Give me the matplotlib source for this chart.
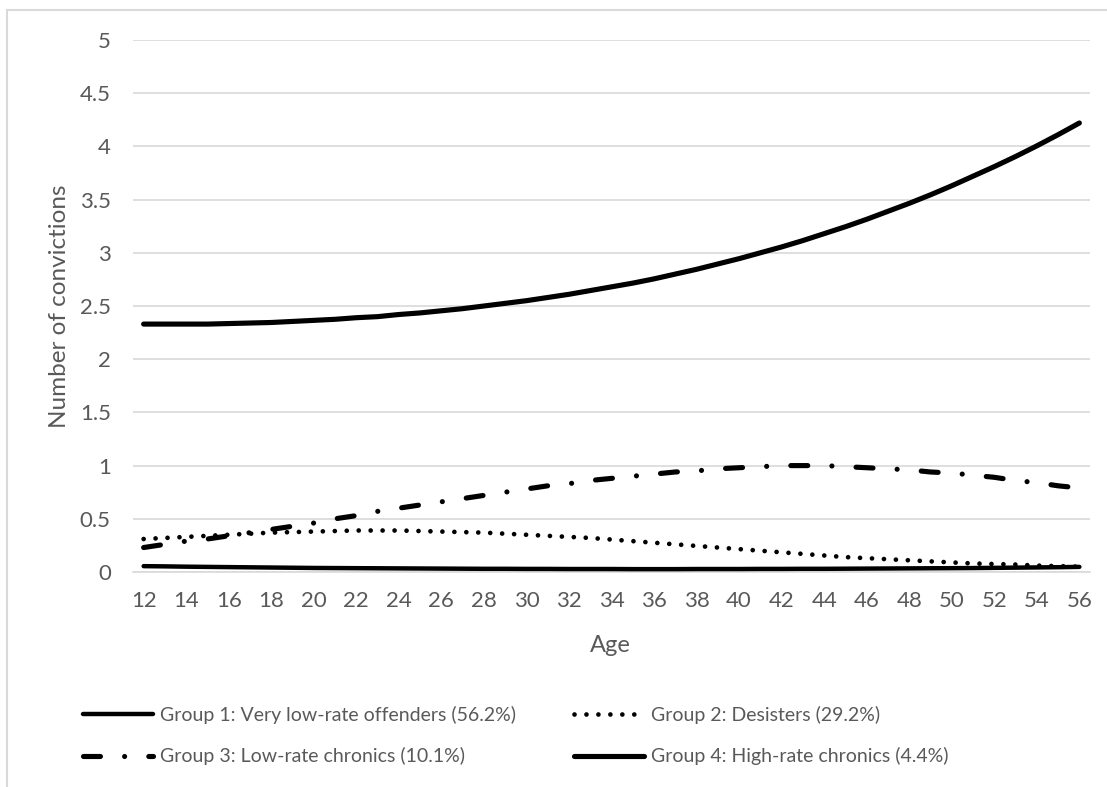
import matplotlib
matplotlib.use("Agg")
import matplotlib.pyplot as plt
from matplotlib.patches import Rectangle

plt.rcParams['font.family'] = ['Lato', 'DejaVu Sans']
plt.rcParams['lines.scale_dashes'] = False

ages = list(range(12, 57))
age_ticks = list(range(12, 57, 2))
y_ticks = [0, 0.5, 1, 1.5, 2, 2.5, 3, 3.5, 4, 4.5, 5]
y_tick_labels = ['0', '0.5', '1', '1.5', '2', '2.5', '3', '3.5', '4', '4.5', '5']

group1 = [0.055, 0.053, 0.050, 0.048, 0.046, 0.044, 0.042, 0.040, 0.038, 0.037,
          0.036, 0.035, 0.034, 0.033, 0.032, 0.031, 0.030, 0.030, 0.029, 0.029,
          0.028, 0.028, 0.028, 0.027, 0.027, 0.027, 0.028, 0.028, 0.028, 0.029,
          0.029, 0.030, 0.030, 0.031, 0.032, 0.033, 0.034, 0.035, 0.036, 0.037,
          0.039, 0.041, 0.043, 0.045, 0.048]
group2 = [0.31, 0.32, 0.33, 0.34, 0.35, 0.36, 0.37, 0.375, 0.38, 0.385,
          0.39, 0.39, 0.39, 0.385, 0.38, 0.375, 0.37, 0.36, 0.35, 0.34,
          0.33, 0.32, 0.305, 0.29, 0.275, 0.26, 0.245, 0.23, 0.215, 0.20,
          0.185, 0.17, 0.155, 0.14, 0.13, 0.12, 0.11, 0.10, 0.09, 0.08,
          0.075, 0.07, 0.06, 0.055, 0.05]
group3 = [0.23, 0.26, 0.29, 0.31, 0.34, 0.37, 0.40, 0.43, 0.46, 0.50,
          0.53, 0.57, 0.60, 0.63, 0.66, 0.69, 0.72, 0.75, 0.78, 0.81,
          0.83, 0.86, 0.88, 0.90, 0.92, 0.94, 0.95, 0.97, 0.98, 0.99,
          1.00, 1.00, 1.00, 0.99, 0.98, 0.97, 0.96, 0.94, 0.93, 0.91,
          0.89, 0.86, 0.84, 0.81, 0.79]
group4 = [2.33, 2.33, 2.33, 2.33, 2.335, 2.34, 2.345, 2.355, 2.365, 2.375,
          2.39, 2.40, 2.42, 2.435, 2.455, 2.475, 2.50, 2.525, 2.55, 2.58,
          2.61, 2.645, 2.68, 2.715, 2.755, 2.80, 2.845, 2.895, 2.945, 3.00,
          3.055, 3.115, 3.18, 3.245, 3.315, 3.39, 3.465, 3.545, 3.63, 3.72,
          3.81, 3.905, 4.005, 4.11, 4.22]

labels = ['Group 1: Very low-rate offenders (56.2%)',
          'Group 2: Desisters (29.2%)',
          'Group 3: Low-rate chronics (10.1%)',
          'Group 4: High-rate chronics (4.4%)']

W, H = 1107, 787
fig = plt.figure(figsize=(W / 100, H / 100), dpi=100)
ax = fig.add_axes([133 / W, 1 - 572 / H, (1090 - 133) / W, (572 - 40) / H])

text_color = '#595959'
grid_color = '#d9d9d9'

l1, = ax.plot(ages, group1, color='black', lw=3.2, solid_capstyle='round', zorder=3)
l2, = ax.plot(ages, group2, color='black', lw=3.4, linestyle=(0, (0.01, 8.6)),
              dash_capstyle='round', zorder=3)
l3, = ax.plot(ages, group3, color='black', lw=3.7, linestyle=(0, (12.2, 17.4, 0.01, 17.4)),
              dash_capstyle='round', zorder=3)
l4, = ax.plot(ages, group4, color='black', lw=3.7, solid_capstyle='round', zorder=3)

ax.set_xlim(11.5, 56.5)
ax.set_ylim(0, 5)
ax.set_xticks(age_ticks)
ax.set_xticklabels([str(a) for a in age_ticks])
ax.set_yticks(y_ticks)
ax.set_yticklabels(y_tick_labels)
ax.tick_params(axis='both', length=0, labelsize=16, colors=text_color)
ax.tick_params(axis='x', pad=14)
ax.tick_params(axis='y', pad=16)
ax.grid(axis='y', color=grid_color, lw=1.2)
ax.set_axisbelow(True)
for s in ['top', 'right', 'left']:
    ax.spines[s].set_visible(False)
ax.spines['bottom'].set_color(grid_color)
ax.spines['bottom'].set_linewidth(1.2)

fig.text(610 / W, 1 - 645 / H, 'Age', ha='center', va='center', fontsize=17, color=text_color)
fig.text(60 / W, 1 - 306 / H, 'Number of convictions', ha='center', va='center',
         rotation=90, fontsize=17.5, color=text_color)

leg = fig.legend([l1, l3, l2, l4], [labels[0], labels[2], labels[1], labels[3]],
                 ncol=2, loc='upper left', bbox_to_anchor=(83 / W, 1 - 706 / H),
                 frameon=False, fontsize=14, handlelength=3.6, handletextpad=0.36,
                 columnspacing=3.0, labelspacing=1.2, borderaxespad=0, borderpad=0)
for t in leg.get_texts():
    t.set_color(text_color)

fig.add_artist(Rectangle((7 / W, -0.1), 1.5, 1 - 10 / H + 0.1, transform=fig.transFigure,
                         fill=False, edgecolor=grid_color, lw=1.5))

fig.savefig('out.png', dpi=100)
